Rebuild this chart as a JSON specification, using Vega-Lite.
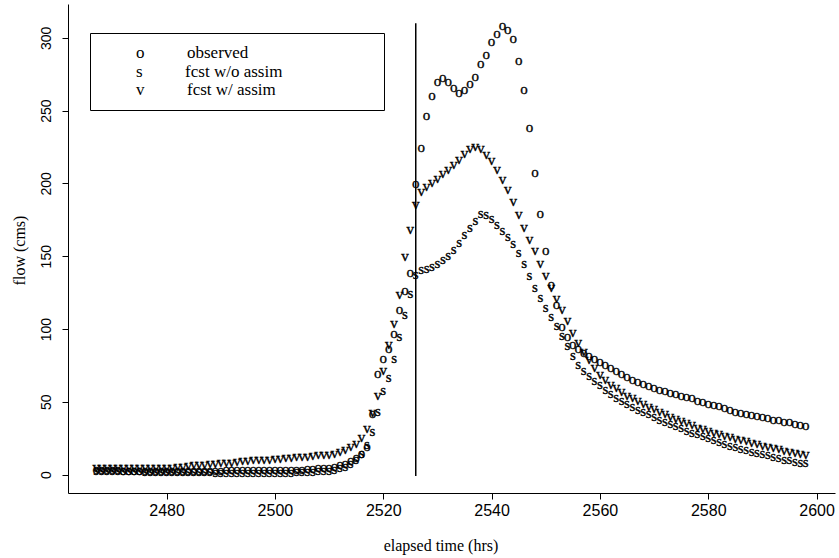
{
  "$schema": "https://vega.github.io/schema/vega-lite/v6.json",
  "width": 767,
  "height": 489,
  "autosize": {"type": "none"},
  "padding": {"left": 68, "top": 4, "right": 4, "bottom": 65},
  "background": "white",
  "config": {"view": {"stroke": null}},
  "datasets": {
    "flows": [
      {"t":2467,"obs":4,"woa":3,"wa":5},{"t":2468,"obs":4,"woa":3,"wa":5},{"t":2469,"obs":4,"woa":3,"wa":5},{"t":2470,"obs":4,"woa":3,"wa":5},{"t":2471,"obs":4,"woa":3,"wa":5},
      {"t":2472,"obs":3.5,"woa":3,"wa":5},{"t":2473,"obs":3.5,"woa":3,"wa":5},{"t":2474,"obs":3.5,"woa":3,"wa":5},{"t":2475,"obs":3.5,"woa":3,"wa":5},{"t":2476,"obs":3.5,"woa":2.5,"wa":5},
      {"t":2477,"obs":3.5,"woa":2.5,"wa":5},{"t":2478,"obs":3.5,"woa":2.5,"wa":5},{"t":2479,"obs":3.5,"woa":2.5,"wa":5},{"t":2480,"obs":3.5,"woa":2.5,"wa":5},{"t":2481,"obs":3.5,"woa":2.5,"wa":5.5},
      {"t":2482,"obs":3.5,"woa":2.5,"wa":6},{"t":2483,"obs":3.5,"woa":2.5,"wa":6},{"t":2484,"obs":3.5,"woa":2.5,"wa":6.5},{"t":2485,"obs":3.5,"woa":2.5,"wa":7},{"t":2486,"obs":3.5,"woa":2.5,"wa":7},
      {"t":2487,"obs":3.5,"woa":2.5,"wa":7.5},{"t":2488,"obs":3.5,"woa":2.5,"wa":8},{"t":2489,"obs":3.5,"woa":2,"wa":8},{"t":2490,"obs":3.5,"woa":2,"wa":8.5},{"t":2491,"obs":4,"woa":2,"wa":9},
      {"t":2492,"obs":4,"woa":2,"wa":9},{"t":2493,"obs":4,"woa":2,"wa":9.5},{"t":2494,"obs":4,"woa":2,"wa":10},{"t":2495,"obs":4,"woa":2,"wa":10},{"t":2496,"obs":4,"woa":2,"wa":10.5},
      {"t":2497,"obs":4,"woa":2,"wa":10.5},{"t":2498,"obs":4,"woa":2,"wa":11},{"t":2499,"obs":4,"woa":2,"wa":11},{"t":2500,"obs":4,"woa":2,"wa":11.5},{"t":2501,"obs":4,"woa":2,"wa":11.5},
      {"t":2502,"obs":4,"woa":2,"wa":12},{"t":2503,"obs":4,"woa":2,"wa":12},{"t":2504,"obs":4,"woa":2.5,"wa":12.5},{"t":2505,"obs":4,"woa":2.5,"wa":12.5},{"t":2506,"obs":4.5,"woa":2.5,"wa":13},
      {"t":2507,"obs":4.5,"woa":2.5,"wa":13.5},{"t":2508,"obs":5,"woa":3,"wa":14},{"t":2509,"obs":5,"woa":3,"wa":14},{"t":2510,"obs":5.5,"woa":3.5,"wa":14.5},{"t":2511,"obs":6,"woa":4,"wa":15},
      {"t":2512,"obs":7,"woa":5,"wa":16},{"t":2513,"obs":8,"woa":6,"wa":17.5},{"t":2514,"obs":10,"woa":8,"wa":19.5},{"t":2515,"obs":12,"woa":11,"wa":22},{"t":2516,"obs":15,"woa":15,"wa":26},
      {"t":2517,"obs":20,"woa":21,"wa":32},{"t":2518,"obs":42,"woa":30,"wa":43},{"t":2519,"obs":70,"woa":44,"wa":55},{"t":2520,"obs":80,"woa":58,"wa":72},{"t":2521,"obs":87,"woa":67,"wa":90},
      {"t":2522,"obs":97,"woa":80,"wa":104},{"t":2523,"obs":114,"woa":95,"wa":124},{"t":2524,"obs":127,"woa":110,"wa":150},{"t":2525,"obs":139,"woa":125,"wa":169},{"t":2526,"obs":200,"woa":138,"wa":186},
      {"t":2527,"obs":225,"woa":141,"wa":195},{"t":2528,"obs":247,"woa":142,"wa":198},{"t":2529,"obs":261,"woa":143,"wa":201},{"t":2530,"obs":270,"woa":145,"wa":204},{"t":2531,"obs":273,"woa":148,"wa":207},
      {"t":2532,"obs":270,"woa":151,"wa":210},{"t":2533,"obs":266,"woa":155,"wa":213},{"t":2534,"obs":263,"woa":160,"wa":217},{"t":2535,"obs":265,"woa":165,"wa":221},{"t":2536,"obs":269,"woa":170,"wa":224},
      {"t":2537,"obs":274,"woa":175,"wa":226},{"t":2538,"obs":283,"woa":180,"wa":224},{"t":2539,"obs":289,"woa":179,"wa":220},{"t":2540,"obs":298,"woa":176,"wa":216},{"t":2541,"obs":303,"woa":172,"wa":210},
      {"t":2542,"obs":309,"woa":168,"wa":203},{"t":2543,"obs":306,"woa":164,"wa":196},{"t":2544,"obs":300,"woa":159,"wa":188},{"t":2545,"obs":285,"woa":153,"wa":179},{"t":2546,"obs":265,"woa":145,"wa":170},
      {"t":2547,"obs":239,"woa":137,"wa":162},{"t":2548,"obs":208,"woa":129,"wa":154},{"t":2549,"obs":180,"woa":122,"wa":145},{"t":2550,"obs":154,"woa":115,"wa":137},{"t":2551,"obs":131,"woa":109,"wa":129},
      {"t":2552,"obs":117,"woa":103,"wa":121},{"t":2553,"obs":102,"woa":96,"wa":114},{"t":2554,"obs":95,"woa":89,"wa":106},{"t":2555,"obs":90,"woa":82,"wa":98},{"t":2556,"obs":87,"woa":76,"wa":91},
      {"t":2557,"obs":84,"woa":72,"wa":85},{"t":2558,"obs":82,"woa":68.5,"wa":79.5},{"t":2559,"obs":80,"woa":65,"wa":74},{"t":2560,"obs":78,"woa":62,"wa":69},{"t":2561,"obs":76,"woa":59,"wa":65.5},
      {"t":2562,"obs":74,"woa":56,"wa":62.5},{"t":2563,"obs":72,"woa":53.5,"wa":60},{"t":2564,"obs":70,"woa":51,"wa":57.5},{"t":2565,"obs":68,"woa":49,"wa":55},{"t":2566,"obs":66,"woa":47,"wa":53},
      {"t":2567,"obs":64.5,"woa":45,"wa":51},{"t":2568,"obs":63,"woa":43.5,"wa":49},{"t":2569,"obs":61.5,"woa":42,"wa":47},{"t":2570,"obs":60,"woa":40,"wa":45.5},{"t":2571,"obs":59,"woa":38.5,"wa":43.5},
      {"t":2572,"obs":58,"woa":37,"wa":42},{"t":2573,"obs":57,"woa":35.5,"wa":40.5},{"t":2574,"obs":56,"woa":34,"wa":39},{"t":2575,"obs":55,"woa":32.5,"wa":37.5},{"t":2576,"obs":54,"woa":31,"wa":36},
      {"t":2577,"obs":53,"woa":29.5,"wa":34.5},{"t":2578,"obs":51.5,"woa":28.5,"wa":33},{"t":2579,"obs":50.5,"woa":27,"wa":32},{"t":2580,"obs":49.5,"woa":26,"wa":30.5},{"t":2581,"obs":48.5,"woa":24.5,"wa":29.5},
      {"t":2582,"obs":47.5,"woa":23,"wa":28.5},{"t":2583,"obs":46.5,"woa":22,"wa":27.5},{"t":2584,"obs":45,"woa":20.5,"wa":26.5},{"t":2585,"obs":44,"woa":19.5,"wa":25.5},{"t":2586,"obs":43,"woa":18.5,"wa":24.5},
      {"t":2587,"obs":42.5,"woa":17.5,"wa":23.5},{"t":2588,"obs":41.5,"woa":16.5,"wa":22.5},{"t":2589,"obs":41,"woa":15.5,"wa":21.5},{"t":2590,"obs":40,"woa":15,"wa":20.5},{"t":2591,"obs":39.5,"woa":14,"wa":19.5},
      {"t":2592,"obs":38.5,"woa":13,"wa":19},{"t":2593,"obs":38,"woa":12,"wa":18},{"t":2594,"obs":37,"woa":11,"wa":17},{"t":2595,"obs":36.5,"woa":10.5,"wa":16.5},{"t":2596,"obs":35.5,"woa":9.5,"wa":15.5},
      {"t":2597,"obs":35,"woa":9,"wa":15},{"t":2598,"obs":34,"woa":8.5,"wa":14}
    ],
    "marker": [{"t": 2526, "flow": -1, "top": 310}]
  },
  "encoding": {
    "x": {
      "field": "t", "type": "quantitative",
      "scale": {"domain": [2461.8, 2603.4], "nice": false, "zero": false},
      "axis": {
        "values": [2480, 2500, 2520, 2540, 2560, 2580, 2600],
        "format": "d",
        "title": "elapsed time (hrs)",
        "grid": false, "labelFlush": false, "labelOverlap": false,
        "domainColor": "black", "domainWidth": 1,
        "tickColor": "black", "tickSize": 6, "tickWidth": 1,
        "labelFont": "Liberation Sans", "labelFontSize": 16, "labelColor": "black", "labelPadding": 3,
        "titleFont": "Liberation Serif", "titleFontSize": 16, "titleFontWeight": "normal", "titleColor": "black",
        "titleX": 372.5, "titleY": 52, "titleAlign": "center", "titleBaseline": "middle"
      }
    },
    "y": {
      "field": "flow", "type": "quantitative",
      "scale": {"domain": [-12.6, 323.2], "nice": false, "zero": false},
      "axis": {
        "values": [0, 50, 100, 150, 200, 250, 300],
        "format": "d",
        "title": "flow (cms)",
        "grid": false, "labelOverlap": false, "labelFlush": false,
        "domainColor": "black", "domainWidth": 1,
        "tickColor": "black", "tickSize": 6, "tickWidth": 1,
        "labelFont": "Liberation Sans", "labelFontSize": 14, "labelColor": "black",
        "labelAngle": 270, "labelAlign": "center", "labelBaseline": "alphabetic", "labelPadding": 12,
        "titleFont": "Liberation Serif", "titleFontSize": 16, "titleFontWeight": "normal", "titleColor": "black",
        "titleAngle": 270, "titleX": -49, "titleY": 246, "titleAlign": "center", "titleBaseline": "middle"
      }
    }
  },
  "layer": [
    {
      "data": {"name": "flows"},
      "transform": [{"fold": ["obs", "woa", "wa"], "as": ["series", "flow"]}, {"filter": "datum.series == 'obs'"}],
      "mark": {"type": "text", "text": "o", "font": "Liberation Serif", "fontSize": 15, "align": "center", "baseline": "middle", "stroke": "black", "strokeWidth": 0.35},
      "encoding": {
        "color": {
          "field": "series", "type": "nominal",
          "scale": {"domain": ["obs", "woa", "wa"], "range": ["black", "black", "black"]},
          "legend": {
            "orient": "none", "legendX": 22, "legendY": 29, "title": null,
            "strokeColor": "black", "fillColor": "white", "padding": 11.5, "rowPadding": 0.5,
            "symbolSize": 1, "symbolOpacity": 0, "symbolType": "circle", "labelOffset": 17.5,
            "labelFont": "Liberation Serif", "labelFontSize": 17, "labelColor": "black", "labelLimit": 800,
            "labelExpr": "(datum.value == 'obs' ? 'o\u00a0\u00a0\u00a0\u00a0\u00a0\u00a0\u00a0\u00a0\u00a0\u00a0observed' : datum.value == 'woa' ? 's\u00a0\u00a0\u00a0\u00a0\u00a0\u00a0\u00a0\u00a0\u00a0\u00a0fcst w/o assim' : 'v\u00a0\u00a0\u00a0\u00a0\u00a0\u00a0\u00a0\u00a0\u00a0\u00a0fcst w/ assim') + '\u00a0\u00a0\u00a0\u00a0\u00a0\u00a0\u00a0\u00a0\u00a0\u00a0\u00a0\u00a0\u00a0\u00a0\u00a0\u00a0\u00a0\u00a0\u00a0\u00a0\u00a0\u200b'"
          }
        }
      }
    },
    {
      "data": {"name": "flows"},
      "transform": [{"fold": ["obs", "woa", "wa"], "as": ["series", "flow"]}, {"filter": "datum.series == 'woa'"}],
      "mark": {"type": "text", "text": "s", "font": "Liberation Serif", "fontSize": 15, "align": "center", "baseline": "middle", "stroke": "black", "strokeWidth": 0.35},
      "encoding": {
        "color": {"field": "series", "type": "nominal", "scale": {"domain": ["obs", "woa", "wa"], "range": ["black", "black", "black"]}}
      }
    },
    {
      "data": {"name": "flows"},
      "transform": [{"fold": ["obs", "woa", "wa"], "as": ["series", "flow"]}, {"filter": "datum.series == 'wa'"}],
      "mark": {"type": "text", "text": "v", "font": "Liberation Serif", "fontSize": 15, "align": "center", "baseline": "middle", "stroke": "black", "strokeWidth": 0.35},
      "encoding": {
        "color": {"field": "series", "type": "nominal", "scale": {"domain": ["obs", "woa", "wa"], "range": ["black", "black", "black"]}}
      }
    },
    {
      "data": {"name": "marker"},
      "mark": {"type": "rule", "color": "black", "strokeWidth": 1.5},
      "encoding": {"y2": {"field": "top"}}
    }
  ]
}
